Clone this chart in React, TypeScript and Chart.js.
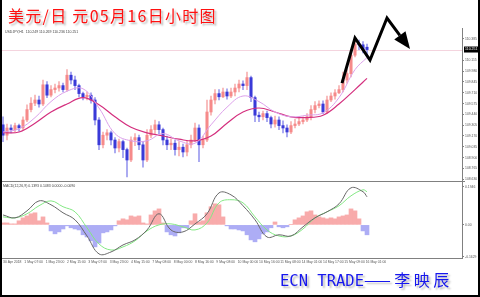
import React, { useEffect, useRef } from 'react';
import { Chart, registerables } from 'chart.js';
Chart.register(...registerables);

// ---------- data ----------
const barHours = 3; // each candle = 3 hours
const opens = [109.31,109.18,109.27,109.25,109.30,109.27,109.37,109.50,109.58,109.62,
109.57,109.81,109.68,109.75,109.77,109.80,109.75,109.93,109.87,109.80,
109.70,109.66,109.68,109.62,109.37,109.06,109.18,109.21,109.12,109.02,
109.10,109.00,108.87,109.12,109.15,109.06,108.87,109.18,109.25,109.31,
109.25,109.12,109.06,109.08,109.00,109.03,108.97,109.06,109.12,109.27,
109.06,109.12,109.47,109.62,109.70,109.66,109.72,109.67,109.72,109.77,
109.82,109.80,109.90,109.65,109.43,109.41,109.45,109.40,109.32,109.37,
109.30,109.27,109.22,109.30,109.32,109.35,109.37,109.41,109.50,109.55,
109.57,109.47,109.62,109.67,109.71,109.75,109.87,109.95,110.18,110.32,
110.31,110.28];
const highs = [109.41,109.32,109.31,109.33,109.32,109.41,109.56,109.65,109.68,109.67,
109.87,109.85,109.80,109.82,109.85,109.83,110.00,109.97,109.92,109.82,
109.72,109.72,109.71,109.65,109.40,109.22,109.25,109.23,109.15,109.13,
109.12,109.02,109.16,109.20,109.18,109.10,109.25,109.30,109.37,109.35,
109.27,109.17,109.13,109.12,109.10,109.07,109.11,109.18,109.33,109.31,
109.17,109.62,109.67,109.75,109.75,109.77,109.76,109.77,109.82,109.87,
109.86,109.97,109.92,109.67,109.47,109.48,109.48,109.42,109.42,109.41,
109.36,109.31,109.35,109.38,109.41,109.41,109.45,109.55,109.60,109.61,
109.61,109.67,109.71,109.75,109.80,109.97,110.00,110.25,110.37,110.37,
110.35,110.32];
const lows = [109.10,109.12,109.21,109.22,109.23,109.25,109.35,109.47,109.55,109.53,
109.55,109.65,109.66,109.71,109.73,109.72,109.73,109.82,109.75,109.66,
109.62,109.62,109.58,109.31,109.00,109.02,109.12,109.06,108.96,108.97,
108.90,108.66,108.85,109.05,109.00,108.78,108.85,109.15,109.20,109.20,
109.06,109.00,109.00,108.93,108.92,108.91,108.92,109.02,109.10,108.85,
109.02,109.10,109.43,109.57,109.62,109.65,109.63,109.65,109.67,109.72,
109.75,109.75,109.60,109.35,109.35,109.37,109.35,109.27,109.28,109.25,
109.21,109.16,109.20,109.27,109.30,109.32,109.35,109.37,109.46,109.52,
109.45,109.45,109.60,109.63,109.70,109.72,109.83,109.91,110.16,110.25,
110.21,110.18];
const closes = [109.18,109.27,109.25,109.30,109.27,109.37,109.50,109.58,109.62,109.57,
109.81,109.68,109.75,109.77,109.80,109.75,109.93,109.87,109.80,109.70,
109.66,109.68,109.62,109.37,109.06,109.18,109.21,109.12,109.02,109.10,
109.00,108.87,109.12,109.15,109.06,108.87,109.18,109.25,109.31,109.25,
109.12,109.06,109.08,109.00,109.03,108.97,109.06,109.12,109.27,109.06,
109.12,109.47,109.62,109.70,109.66,109.72,109.67,109.72,109.77,109.82,
109.80,109.90,109.65,109.43,109.41,109.45,109.40,109.32,109.37,109.30,
109.27,109.22,109.30,109.32,109.35,109.37,109.41,109.50,109.55,109.57,
109.47,109.62,109.67,109.71,109.75,109.87,109.95,110.18,110.32,110.31,
110.25,110.25];

const maHours = [0,12,24,36,48,60,72,84,96,108,120,132,144,156,168,180,192,204,216,228,240,252,264,273];
const fastMA = [109.22,109.26,109.40,109.60,109.73,109.76,109.52,109.20,109.11,109.11,109.20,109.11,109.08,109.31,109.53,109.67,109.60,109.47,109.41,109.43,109.46,109.65,110.00,110.15];
const slowMA = [109.21,109.22,109.33,109.47,109.57,109.65,109.56,109.41,109.28,109.21,109.17,109.13,109.11,109.17,109.33,109.47,109.52,109.47,109.41,109.40,109.43,109.57,109.75,109.89];

const macdHours = [0,9,18,27,36,45,54,63,72,81,90,99,108,117,126,135,144,153,162,171,180,189,198,207,216,225,234,243,252,261,270,273];
const macdLine = [0.051,0.036,0.072,0.123,0.103,0.062,0.026,-0.057,-0.149,-0.139,-0.103,-0.077,-0.026,0.057,-0.026,-0.036,0.005,0.057,0.164,0.154,0.098,0.026,-0.062,-0.051,-0.057,-0.010,0.036,0.067,0.108,0.190,0.170,0.144];
const signalLine = [0.041,0.036,0.057,0.098,0.123,0.093,0.067,-0.015,-0.098,-0.129,-0.113,-0.082,-0.031,0.000,0.005,-0.010,-0.026,0.010,0.113,0.129,0.113,0.041,-0.026,-0.057,-0.057,-0.021,0.036,0.067,0.098,0.149,0.180,0.170];
const histValues = [0.010,0.010,0.005,0.005,0.021,0.036,0.046,0.057,0.062,0.021,
0.041,0.010,-0.031,-0.046,-0.036,-0.021,-0.005,-0.015,-0.021,-0.026,
-0.051,-0.062,-0.082,-0.113,-0.093,-0.041,-0.036,-0.026,-0.005,0.021,
0.031,0.026,0.046,0.041,0.046,0.010,0.005,0.051,0.072,0.082,
0.010,-0.036,-0.051,-0.057,-0.041,-0.015,-0.015,0.021,0.057,0.015,
0.021,0.062,0.093,0.108,0.103,0.041,-0.005,-0.021,-0.021,-0.026,
-0.031,-0.051,-0.077,-0.087,-0.072,-0.046,-0.036,-0.015,0.015,-0.010,
-0.015,-0.010,0.002,0.026,0.036,0.046,0.067,0.072,0.051,0.041,
0.036,0.031,0.036,0.031,0.041,0.046,0.051,0.082,0.072,0.031,
-0.031,-0.051];

const priceTicks = [110.385,110.115,109.980,109.845,109.710,109.575,109.440,109.305,109.170,109.035,108.900,108.765,108.630];
const currentPrice = 110.251;
const macdTicks = [0.1946, 0, -0.1629];
const timeTickHours = [0,16,32,48,64,80,96,112,128,144,160,176,192,208,224,240,256,272];
const timeTickLabels = ['30 Apr 2018','1 May 07:00','1 May 23:00','2 May 15:00','3 May 07:00','3 May 23:00','4 May 15:00','7 May 08:00','8 May 00:00','8 May 16:00','9 May 08:00','10 May 00:00','10 May 16:00','11 May 08:00','14 May 01:00','14 May 17:00','15 May 09:00','16 May 01:00'];

// forecast arrow drawn by the author (hour, price)
const arrowHours = [254.25, 264, 275.25, 288, 305.25];
const arrowPrices = [109.83, 110.395, 110.12, 110.645, 110.258];

const titleText = '美元/日 元05月16日小时图';
const headerText = 'USDJPY,H1  110.249 110.269 110.236 110.251';
const macdHeader = 'MACD(12,26,9) 0.1393 0.1483 0.0000 -0.0090';
const footerLatin = 'ECN TRADE';
const footerCjk = '——李映辰';

const overlayPlugin: any = {
  id: 'overlay',
  beforeDatasetsDraw(chart: any) {
    const { ctx, chartArea, scales } = chart;
    const y = Math.round(scales.y.getPixelForValue(currentPrice)) + 0.5;
    ctx.save();
    ctx.strokeStyle = '#f4d4de';
    ctx.lineWidth = 1;
    ctx.beginPath();
    ctx.moveTo(chartArea.left, y);
    ctx.lineTo(chartArea.right, y);
    ctx.stroke();
    ctx.restore();
  },
  afterDraw(chart: any) {
    const { ctx, chartArea, scales } = chart;
    ctx.save();
    // panel separator
    const sy = Math.round(scales.y.bottom) - 0.5;
    ctx.strokeStyle = '#808080';
    ctx.lineWidth = 1;
    ctx.beginPath();
    ctx.moveTo(chartArea.left, sy);
    ctx.lineTo(chartArea.right + 3, sy);
    ctx.stroke();
    // current price tag
    const py = scales.y.getPixelForValue(currentPrice);
    const lx = scales.y.left + 2;
    ctx.fillStyle = '#000';
    ctx.fillRect(lx, py - 3, 478 - lx, 6);
    ctx.fillStyle = '#fff';
    ctx.font = '3.5px "Liberation Sans"';
    ctx.textBaseline = 'middle';
    ctx.textAlign = 'left';
    ctx.fillText(currentPrice.toFixed(3), lx + 1, py);
    // zigzag forecast arrow
    const pts = arrowHours.map((h, i) => [scales.x.getPixelForValue(h), scales.y.getPixelForValue(arrowPrices[i])]);
    const n = pts.length;
    const [tx, ty] = pts[n - 1];
    const [px, ppy] = pts[n - 2];
    const len = Math.hypot(tx - px, ty - ppy);
    const ux = (tx - px) / len, uy = (ty - ppy) / len;
    const headLen = 17, headHalf = 7;
    const bx = tx - ux * headLen, by = ty - uy * headLen;
    ctx.strokeStyle = '#000';
    ctx.fillStyle = '#000';
    ctx.lineWidth = 3;
    ctx.lineJoin = 'miter';
    ctx.beginPath();
    ctx.moveTo(pts[0][0], pts[0][1]);
    for (let i = 1; i < n - 1; i++) ctx.lineTo(pts[i][0], pts[i][1]);
    ctx.lineTo(bx, by);
    ctx.stroke();
    ctx.beginPath();
    ctx.moveTo(tx, ty);
    ctx.lineTo(bx - uy * headHalf, by + ux * headHalf);
    ctx.lineTo(bx + uy * headHalf, by - ux * headHalf);
    ctx.closePath();
    ctx.fill();
    ctx.restore();
  },
};

export default function App() {
  const ref = useRef<HTMLCanvasElement>(null);
  useEffect(() => {
    const hours = opens.map((_, i) => i * barHours);
    const bull = opens.map((o, i) => closes[i] >= o);
    const bodyData = hours.map((h, i) => ({ x: h, y: [opens[i], closes[i]] }));
    const wickData = hours.map((h, i) => ({ x: h, y: [lows[i], highs[i]] }));
    const histData = hours.map((h, i) => ({ x: h, y: histValues[i] }));
    const axisColor = '#808080';
    const tickFont = { size: 3.4, family: 'Liberation Sans' };
    const chart = new Chart(ref.current as HTMLCanvasElement, {
      type: 'bar',
      data: {
        datasets: [
          { type: 'line', data: maHours.map((h, i) => ({ x: h, y: fastMA[i] })), borderColor: '#dca0ea', borderWidth: 1, pointRadius: 0, tension: 0.4, yAxisID: 'y', order: 1 },
          { type: 'line', data: maHours.map((h, i) => ({ x: h, y: slowMA[i] })), borderColor: '#d42f7e', borderWidth: 1.2, pointRadius: 0, tension: 0.4, yAxisID: 'y', order: 1 },
          { type: 'bar', data: bodyData, backgroundColor: bull.map(b => (b ? '#f68a8a' : '#3a3ad8')), barThickness: 2.4, grouped: false, yAxisID: 'y', order: 3 },
          { type: 'bar', data: wickData, backgroundColor: bull.map(b => (b ? '#f7b0b0' : '#9a9aee')), barThickness: 1, grouped: false, yAxisID: 'y', order: 4 },
          { type: 'line', data: macdHours.map((h, i) => ({ x: h, y: macdLine[i] })), borderColor: '#686868', borderWidth: 1, pointRadius: 0, tension: 0.4, yAxisID: 'y2', order: 1 },
          { type: 'line', data: macdHours.map((h, i) => ({ x: h, y: signalLine[i] })), borderColor: '#84e884', borderWidth: 1, pointRadius: 0, tension: 0.4, yAxisID: 'y2', order: 1 },
          { type: 'bar', data: histData, backgroundColor: histValues.map(v => (v >= 0 ? '#f8abab' : '#adadf5')), barThickness: 4, grouped: false, yAxisID: 'y2', order: 5 },
        ],
      } as any,
      options: {
        responsive: false,
        animation: false,
        events: [],
        layout: { padding: { left: 2, right: 2, top: 28, bottom: 0 } },
        plugins: { legend: { display: false }, tooltip: { enabled: false } },
        scales: {
          x: {
            type: 'linear', min: -0.75, max: 344.25, offset: false, position: 'bottom',
            grid: { display: true, drawOnChartArea: false, tickLength: 1, color: axisColor, offset: false },
            border: { display: true, color: axisColor },
            afterBuildTicks: (s: any) => { s.ticks = timeTickHours.map(v => ({ value: v })); },
            afterFit: (s: any) => { s.height = 39; },
            ticks: { autoSkip: false, maxRotation: 0, minRotation: 0, align: 'start', padding: 1, font: tickFont, color: '#555', callback: (_v: any, i: number) => timeTickLabels[i] },
          },
          y: {
            type: 'linear', position: 'right', stack: 'panes', stackWeight: 154, min: 108.595, max: 110.52,
            grid: { display: true, drawOnChartArea: false, tickLength: 2, color: axisColor },
            border: { display: true, color: axisColor },
            afterBuildTicks: (s: any) => { s.ticks = priceTicks.map(v => ({ value: v })); },
            afterFit: (s: any) => { s.width = 16; },
            ticks: { padding: 1, font: tickFont, color: '#555', callback: (v: any) => Number(v).toFixed(3) },
          },
          y2: {
            type: 'linear', position: 'right', stack: 'panes', stackWeight: 76, min: -0.17, max: 0.22,
            grid: { display: true, drawOnChartArea: false, tickLength: 2, color: axisColor },
            border: { display: true, color: axisColor },
            afterBuildTicks: (s: any) => { s.ticks = macdTicks.map(v => ({ value: v })); },
            afterFit: (s: any) => { s.width = 16; },
            ticks: { padding: 1, font: tickFont, color: '#555', callback: (v: any) => (Number(v) === 0 ? '0.00' : Number(v).toFixed(4)) },
          },
        },
      } as any,
      plugins: [overlayPlugin],
    });
    return () => chart.destroy();
  }, []);

  return (
    <div style={{ position: 'relative', width: 480, height: 297, background: '#fff', overflow: 'hidden' }}>
      <style>{'body{margin:0}'}</style>
      <canvas ref={ref} width={480} height={297} style={{ position: 'absolute', left: 0, top: 0 }} />
      <div style={{ position: 'absolute', left: 8, top: 5, height: 20, lineHeight: '20px', fontSize: 16, letterSpacing: '1.3px', color: '#ff1010', fontFamily: '"Noto Sans CJK SC", sans-serif', textShadow: '2px 2px 2px #b8b8b8', whiteSpace: 'pre' }}>{titleText}</div>
      <div style={{ position: 'absolute', left: 5, top: 30, fontSize: '3.5px', lineHeight: '4px', color: '#444', fontFamily: '"Liberation Sans", sans-serif', whiteSpace: 'pre' }}>{headerText}</div>
      <div style={{ position: 'absolute', left: 3, top: 184, fontSize: '3.5px', lineHeight: '4px', color: '#444', fontFamily: '"Liberation Sans", sans-serif', whiteSpace: 'pre' }}>{macdHeader}</div>
      <div style={{ position: 'absolute', left: 280, top: 270, height: 18, lineHeight: '18px', fontSize: '15.5px', color: '#1717ee', textShadow: '2px 2px 2px #b8b8b8', whiteSpace: 'pre' }}>
        <span style={{ fontFamily: '"DejaVu Sans Mono", monospace' }}>{footerLatin}</span>
        <span style={{ fontFamily: '"Noto Sans CJK SC", sans-serif', fontSize: '16px', letterSpacing: '3.5px' }}>{footerCjk}</span>
      </div>
      <div style={{ position: 'absolute', left: 0, top: 0, width: 480, height: 297, boxSizing: 'border-box', borderLeft: '2px solid #000', borderRight: '2px solid #000', borderBottom: '2px solid #000', pointerEvents: 'none' }} />
    </div>
  );
}
